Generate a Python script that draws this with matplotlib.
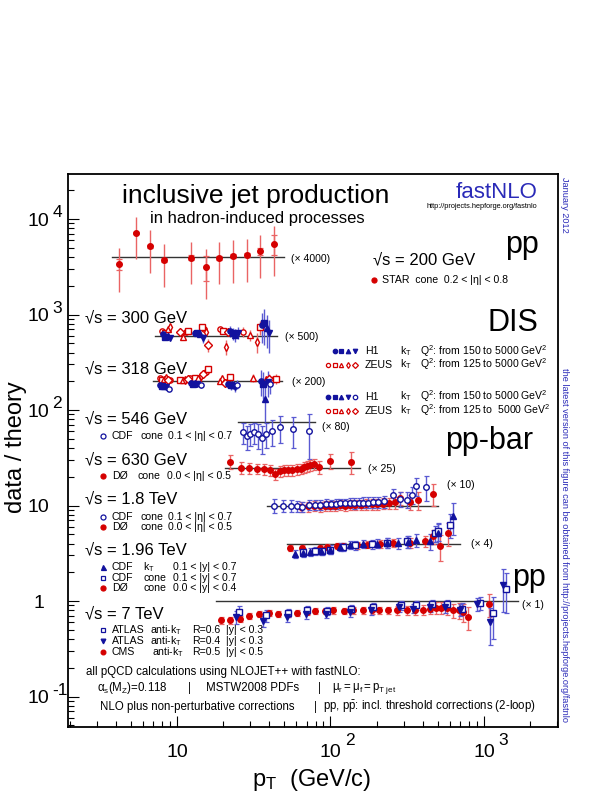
import matplotlib
matplotlib.use("Agg")
import matplotlib.pyplot as plt
import matplotlib.transforms as mtrans
import numpy as np

plt.rcParams['font.family'] = ['Liberation Sans', 'DejaVu Sans']
plt.rcParams['mathtext.fontset'] = 'custom'
plt.rcParams['mathtext.rm'] = 'Liberation Sans'
plt.rcParams['mathtext.it'] = 'Liberation Sans:italic'
plt.rcParams['mathtext.sf'] = 'Liberation Sans'

# ---------------- data (ratio data/theory, multiplied by the offset factor) ----
STAR_PT = [4.2, 5.4, 6.7, 8.2, 12.4, 15.4, 18.9, 23.2, 28.4, 34.9, 42.8]
STAR_R = [0.845, 1.80, 1.29, 0.93, 0.985, 0.786, 0.985, 1.03, 1.05, 1.15, 1.38]
STAR_E = [0.41, 0.85, 0.61, 0.44, 0.46, 0.42, 0.46, 0.49, 0.50, 0.55, 0.74]
STAR_STAT = [0.11, 0.05, 0.05, 0.05, 0.06, 0.23, 0.05, 0.05, 0.06, 0.10, 0.33]

H1_300_PT = [8.1, 8.4, 8.7, 9.0, 13.1, 13.6, 14.1, 14.7, 22.2, 23.0, 23.9, 24.9,
             35.6, 37.0, 38.4, 39.9]
H1_300_R = [1.03, 0.976, 1.0, 0.953, 1.075, 1.058, 1.033, 0.938, 1.128, 1.058,
            1.016, 1.075, 1.29, 1.35, 1.19, 1.06]
H1_300_E = [0.04, 0.04, 0.04, 0.04, 0.06, 0.06, 0.06, 0.10, 0.15, 0.15, 0.15,
            0.15, 0.45, 0.55, 0.45, 0.40]
H1_300_BIN = [0, 1, 2, 3, 0, 1, 2, 3, 0, 1, 2, 3, 0, 1, 2, 3]

ZEUS_300_PT = [7.95, 8.35, 8.78, 9.0, 10.45, 10.9, 11.45, 11.85, 14.5, 15.0,
               15.45, 16.0, 19.06, 19.8, 20.8, 21.6, 27.0, 29.9, 33.0, 34.8]
ZEUS_300_R = [1.119, 1.058, 1.165, 1.222, 1.101, 0.976, 1.101, 1.128, 1.243,
              1.165, 1.101, 0.798, 1.165, 1.119, 0.767, 1.101, 1.101, 1.016,
              0.865, 1.222]
ZEUS_300_E = [0.05, 0.05, 0.08, 0.06, 0.05, 0.06, 0.06, 0.06, 0.08, 0.08,
              0.08, 0.12, 0.08, 0.08, 0.14, 0.08, 0.12, 0.14, 0.20, 0.20]
ZEUS_300_BIN = [0, 1, 2, 3, 4, 2, 0, 1, 1, 0, 3, 4, 0, 1, 3, 4, 0, 2, 3, 1]

H1_318_PT = [7.75, 7.99, 8.23, 8.48, 8.87, 12.4, 12.8, 13.2, 13.6, 14.3,
             21.6, 22.4, 23.2, 24.0, 24.7, 35.1, 36.3, 37.6, 38.9, 40.3]
H1_318_R = [0.908, 0.894, 0.886, 0.872, 0.825, 0.968, 0.945, 0.953, 0.938,
            0.908, 0.945, 0.908, 0.923, 0.872, 0.923, 1.008, 0.945, 0.658,
            0.984, 0.93]
H1_318_E = [0.04, 0.04, 0.04, 0.04, 0.04, 0.05, 0.05, 0.05, 0.05, 0.05,
            0.10, 0.10, 0.10, 0.10, 0.10, 0.30, 0.30, 0.28, 0.30, 0.20]
H1_318_BIN = [0, 1, 2, 3, 4, 0, 1, 2, 3, 4, 0, 1, 2, 3, 4, 0, 1, 2, 3, 4]

ZEUS_318_PT = [7.75, 7.99, 8.23, 8.48, 8.78, 9.0, 10.45, 10.9, 11.35, 11.8,
               12.2, 13.1, 13.8, 14.3, 14.8, 15.45, 16.0, 19.06, 19.7, 20.5,
               21.3, 22.2, 31.4, 37.8, 39.6, 41.4, 44.3]
ZEUS_318_R = [1.092, 1.041, 1.066, 1.092, 1.024, 1.041, 1.041, 1.024, 1.041,
              1.066, 1.092, 1.092, 1.092, 1.128, 1.184, 1.252, 1.357, 1.008,
              1.066, 0.961, 0.984, 1.11, 1.092, 1.041, 1.066, 1.024, 1.066]
ZEUS_318_E = [0.03, 0.03, 0.03, 0.03, 0.03, 0.03, 0.03, 0.03, 0.03, 0.03,
              0.03, 0.04, 0.04, 0.04, 0.05, 0.05, 0.06, 0.05, 0.05, 0.06,
              0.06, 0.06, 0.10, 0.10, 0.12, 0.12, 0.12]
ZEUS_318_BIN = [0, 1, 2, 3, 4, 0, 1, 2, 3, 4, 0, 1, 2, 3, 4, 0, 1, 2, 3, 4,
                0, 1, 2, 3, 4, 0, 1]

CDF_546_PT = [27.0, 28.4, 29.9, 31.8, 33.8, 35.9, 37.8, 41.4, 46.8, 57.2, 72.0]
CDF_546_R = [0.786, 0.714, 0.755, 0.786, 0.743, 0.685, 0.755, 0.805, 0.886,
             0.838, 0.805]
CDF_546_E = [0.20, 0.20, 0.20, 0.20, 0.22, 0.22, 0.22, 0.25, 0.28, 0.30, 0.40]

D0_630_PT = [22.3, 26.0, 29.5, 33.0, 36.9, 40.3, 43.5, 46.8, 50.0, 53.0, 56.5,
             60.3, 64.0, 67.7, 70.7, 73.7, 77.5, 84.6, 100.0, 135.0]
D0_630_R = [1.156, 1.0, 0.984, 0.976, 0.96, 0.938, 0.852, 0.923, 0.945, 0.945,
            0.945, 0.96, 0.968, 1.016, 1.033, 1.058, 1.084, 1.024, 1.175, 1.156]
D0_630_E = [0.20, 0.15, 0.12, 0.12, 0.12, 0.12, 0.12, 0.12, 0.12, 0.12, 0.12,
            0.12, 0.12, 0.13, 0.13, 0.14, 0.15, 0.16, 0.22, 0.30]

CDF_1800_PT = [42.8, 48.7, 55.0, 60.8, 65.6, 72.4, 79.2, 86.0, 93.0, 100.4,
               108.1, 115.6, 123.6, 134.0, 143.0, 153.0, 164.0, 176.0, 189.6,
               205.0, 224.0, 257.0, 283.0, 313.0, 338.0, 363.0, 416.0]
CDF_1800_R = [1.0, 1.0, 1.0, 0.984, 0.976, 1.016, 1.016, 1.024, 1.041, 1.033,
              1.041, 1.058, 1.058, 1.066, 1.058, 1.066, 1.075, 1.075, 1.092,
              1.084, 1.11, 1.30, 1.17, 1.155, 1.30, 1.60, 1.57]
CDF_1800_E = [0.17, 0.15, 0.14, 0.13, 0.12, 0.12, 0.12, 0.12, 0.12, 0.12,
              0.12, 0.12, 0.12, 0.13, 0.13, 0.13, 0.14, 0.14, 0.15, 0.15,
              0.16, 0.20, 0.20, 0.22, 0.25, 0.35, 0.45]

D0_1800_PT = [64, 71, 78, 85, 92, 99, 107, 115, 124, 134, 145, 157, 170, 185,
              201, 219, 240, 265, 283, 330, 373, 466]
D0_1800_R = [0.97, 0.98, 0.99, 0.98, 1.0, 0.99, 1.0, 1.01, 1.0, 1.02, 1.01,
             1.02, 1.03, 1.03, 1.04, 1.05, 1.06, 1.08, 1.20, 1.10, 1.15, 1.33]
D0_1800_E = [0.12, 0.12, 0.12, 0.12, 0.12, 0.12, 0.12, 0.12, 0.12, 0.12, 0.12,
             0.13, 0.13, 0.13, 0.14, 0.14, 0.15, 0.16, 0.18, 0.20, 0.25, 0.35]

D0_1960_PT = [54.5, 64.9, 85.3, 94.3, 109.6, 121.2, 148, 172, 210, 257, 330,
              415, 466, 517, 585]
D0_1960_R = [0.90, 0.90, 0.90, 0.923, 0.938, 0.953, 0.96, 0.976, 0.992, 1.016,
             1.016, 1.058, 1.19, 0.938, 1.29]
D0_1960_E = [0.07, 0.06, 0.06, 0.06, 0.07, 0.07, 0.08, 0.08, 0.09, 0.10, 0.12,
             0.14, 0.20, 0.28, 0.35]

CDFKT_1960_PT = [58.6, 66.5, 73.7, 87.0, 99.2, 115, 134, 163.6, 200, 235, 277,
                 320, 363, 443, 500, 624]
CDFKT_1960_R = [0.78, 0.80, 0.818, 0.84, 0.865, 0.92, 0.976, 0.992, 1.0, 1.01,
                1.016, 1.05, 1.084, 1.058, 1.30, 1.93]
CDFKT_1960_E = [0.08, 0.08, 0.08, 0.08, 0.09, 0.09, 0.10, 0.10, 0.11, 0.12,
                0.13, 0.15, 0.17, 0.20, 0.30, 0.70]

CDFCONE_1960_PT = [66.5, 79.2, 87.4, 99.2, 120, 145, 185.5, 232, 313, 479, 503,
                   600]
CDFCONE_1960_R = [0.818, 0.83, 0.845, 0.865, 0.92, 0.96, 0.992, 1.016, 1.058,
                  1.29, 1.35, 1.58]
CDFCONE_1960_E = [0.08, 0.08, 0.08, 0.09, 0.09, 0.10, 0.11, 0.12, 0.15, 0.25,
                  0.28, 0.45]

CMS_PT = [19.3, 22.2, 25.7, 29.6, 34.2, 39.7, 45.7, 53.2, 60.3, 69.9, 79.2, 92,
          104, 122.5, 141, 163.6, 185.5, 208, 237.6, 269.5, 313, 355, 403, 444,
          490, 528, 570, 624, 683, 734, 790, 1080]
CMS_R = [0.627, 0.627, 0.653, 0.691, 0.737, 0.749, 0.737, 0.737, 0.755, 0.767,
         0.786, 0.786, 0.798, 0.786, 0.798, 0.798, 0.798, 0.798, 0.798, 0.798,
         0.798, 0.811, 0.811, 0.831, 0.852, 0.852, 0.845, 0.798, 0.798, 0.767,
         0.68, 0.938]
CMS_E = [0.05, 0.05, 0.05, 0.05, 0.05, 0.05, 0.05, 0.05, 0.05, 0.05, 0.06,
         0.06, 0.06, 0.06, 0.06, 0.06, 0.07, 0.07, 0.07, 0.08, 0.08, 0.09,
         0.10, 0.10, 0.12, 0.12, 0.13, 0.14, 0.15, 0.16, 0.18, 0.25]

ATLAS6_PT = [25.3, 37.8, 53.2, 70.7, 94.3, 137, 188, 287, 358, 459, 570, 718,
             941, 1140, 1400]
ATLAS6_R = [0.767, 0.708, 0.755, 0.812, 0.786, 0.831, 0.865, 0.901, 0.901,
            0.923, 0.923, 0.831, 0.961, 0.749, 1.35]
ATLAS6_E = [0.12, 0.10, 0.08, 0.08, 0.08, 0.08, 0.08, 0.09, 0.09, 0.10, 0.11,
            0.12, 0.15, 0.35, 0.60]

ATLAS4_PT = [24.2, 36.5, 51.8, 68.8, 93, 133, 184, 281, 346, 448, 554, 697,
             898, 1095, 1335]
ATLAS4_R = [0.68, 0.617, 0.68, 0.725, 0.737, 0.767, 0.798, 0.865, 0.831, 0.865,
            0.865, 0.811, 0.938, 0.60, 1.46]
ATLAS4_E = [0.10, 0.08, 0.08, 0.08, 0.08, 0.08, 0.08, 0.09, 0.09, 0.10, 0.11,
            0.12, 0.15, 0.25, 0.70]

# offset factor and pT range of the theory line for each data set
LINES = {
    'star': (4000, 3.76, 49.8),
    'dis300': (600, 7.2, 44.6),
    'dis318': (200, 7.0, 48.0),
    'cdf546': (75, 25.0, 79.0),
    'd0630': (25, 20.5, 155.0),
    'tev1800': (10, 38.4, 500.0),
    'tev1960': (4, 51.8, 698.0),
    'lhc7': (1, 18.0, 1660.0),
}

X_TICKS = [10, 100, 1000]
X_EXP = ['', '2', '3']
Y_TICKS = [0.1, 1, 10, 100, 1000, 10000]
Y_BASE = ['10', '1', '10', '10', '10', '10']
Y_EXP = ['-1', '', '', '2', '3', '4']

RED = '#d50000'
RED_E = '#ea6464'
BLUE = '#12129e'
BLUE_E = '#5a5ad2'
TXT_BLUE = '#2a2ab8'

# ---------------- figure ----------------
W, H = 615, 795
X0, X1, Y0, Y1 = 68, 558, 174, 727   # frame in pixels

fig = plt.figure(figsize=(W / 100, H / 100), dpi=100)
ax = fig.add_axes([X0 / W, 1 - Y1 / H, (X1 - X0) / W, (Y1 - Y0) / H])
ax.set_xscale('log')
ax.set_yscale('log')
ax.set_xlim(1.95, 3034)
ax.set_ylim(0.048, 2.96e4)
for s in ax.spines.values():
    s.set_linewidth(1.3)
ax.tick_params(which='both', direction='in', top=False, right=False,
               labelbottom=False, labelleft=False)
ax.tick_params(which='major', length=8, width=0.8)
ax.tick_params(which='minor', length=4, width=0.8)


def txt(x, y, s, size, color='black', ha='left', va='center', **kw):
    ax.text((x - X0) / (X1 - X0), (Y1 - y) / (Y1 - Y0), s, transform=ax.transAxes,
            fontsize=size, color=color, ha=ha, va=va, clip_on=False, **kw)


def key(x, y, marker, color, filled=True, ms=3.6):
    ax.plot([(x - X0) / (X1 - X0)], [(Y1 - y) / (Y1 - Y0)], transform=ax.transAxes,
            ls='none', marker=marker, ms=ms, mec=color, mew=0.9,
            mfc=color if filled else 'white', clip_on=False)


def series(pt, ratio, err, scale, marker, color, ecolor, filled=True, ms=4.0,
           cap=0.0, stat=None):
    pt = np.asarray(pt, float)
    y = np.asarray(ratio, float) * scale
    e = np.asarray(err, float) * scale
    ax.errorbar(pt, y, yerr=e, fmt='none', ecolor=ecolor, elinewidth=1.0,
                capsize=cap, capthick=0.9, zorder=2)
    if stat is not None:
        ax.errorbar(pt, y, yerr=np.asarray(stat) * scale, fmt='none',
                    ecolor=ecolor, elinewidth=1.0, capsize=2.2, capthick=0.9,
                    zorder=2)
    ax.plot(pt, y, ls='none', marker=marker, ms=ms, mec=color, mew=1.0,
            mfc=color if filled else 'white', zorder=3)


def binned(pt, ratio, err, bins, scale, markers, color, ecolor, filled):
    pt, ratio, err, bins = map(np.asarray, (pt, ratio, err, bins))
    for b, (m, f) in enumerate(zip(markers, filled)):
        sel = bins == b
        series(pt[sel], ratio[sel], err[sel], scale, m, color, ecolor,
               filled=f, ms=3.8)


# theory lines
for name, (scale, lo, hi) in LINES.items():
    ax.plot([lo, hi], [scale, scale], color='#333333', lw=1.0, zorder=1)

H1_MARK = ['o', 's', '^', 'v', 'o']
H1_FILL = [True, True, True, True, False]
ZEUS_MARK = ['o', 's', '^', 'd', 'D']
ZEUS_FILL = [False] * 5

series(STAR_PT, STAR_R, STAR_E, LINES['star'][0], 'o', RED, RED_E, stat=STAR_STAT)
binned(ZEUS_300_PT, ZEUS_300_R, ZEUS_300_E, ZEUS_300_BIN, LINES['dis300'][0],
       ZEUS_MARK, RED, RED_E, ZEUS_FILL)
binned(H1_300_PT, H1_300_R, H1_300_E, H1_300_BIN, LINES['dis300'][0],
       H1_MARK, BLUE, BLUE_E, H1_FILL)
binned(ZEUS_318_PT, ZEUS_318_R, ZEUS_318_E, ZEUS_318_BIN, LINES['dis318'][0],
       ZEUS_MARK, RED, RED_E, ZEUS_FILL)
binned(H1_318_PT, H1_318_R, H1_318_E, H1_318_BIN, LINES['dis318'][0],
       H1_MARK, BLUE, BLUE_E, H1_FILL)
series(CDF_546_PT, CDF_546_R, CDF_546_E, LINES['cdf546'][0], 'o', BLUE, BLUE_E,
       filled=False, cap=1.8)
series(D0_630_PT, D0_630_R, D0_630_E, LINES['d0630'][0], 'o', RED, RED_E, cap=1.8)
series(D0_1800_PT, D0_1800_R, D0_1800_E, LINES['tev1800'][0], 'o', RED, RED_E,
       cap=1.8)
series(CDF_1800_PT, CDF_1800_R, CDF_1800_E, LINES['tev1800'][0], 'o', BLUE,
       BLUE_E, filled=False, cap=1.8)
series(D0_1960_PT, D0_1960_R, D0_1960_E, LINES['tev1960'][0], 'o', RED, RED_E,
       cap=1.8)
series(CDFCONE_1960_PT, CDFCONE_1960_R, CDFCONE_1960_E, LINES['tev1960'][0], 's',
       BLUE, BLUE_E, filled=False, cap=1.8)
series(CDFKT_1960_PT, CDFKT_1960_R, CDFKT_1960_E, LINES['tev1960'][0], '^', BLUE,
       BLUE_E, cap=1.8)
series(CMS_PT, CMS_R, CMS_E, LINES['lhc7'][0], 'o', RED, RED_E, cap=1.8)
series(ATLAS6_PT, ATLAS6_R, ATLAS6_E, LINES['lhc7'][0], 's', BLUE, BLUE_E,
       filled=False, cap=1.8)
series(ATLAS4_PT, ATLAS4_R, ATLAS4_E, LINES['lhc7'][0], 'v', BLUE, BLUE_E, cap=1.8)

# tick labels in ROOT style: base centred on the tick, exponent to the right
xt = ax.get_xaxis_transform()
for v, ex in zip(X_TICKS, X_EXP):
    ax.text(v, -0.047, '10', transform=xt, ha='center', va='center', fontsize=14)
    if ex:
        ax.text(v, -0.047, ex, ha='left', va='center', fontsize=12.5,
                transform=mtrans.offset_copy(xt, fig, x=10.5, y=9, units='points'))
yt = ax.get_yaxis_transform()
for v, base, ex in zip(Y_TICKS, Y_BASE, Y_EXP):
    ax.text(-0.06, v, base, transform=mtrans.offset_copy(yt, fig, y=-1.7, units='points'),
            ha='center', va='center', fontsize=14)
    if ex:
        ax.text(-0.06, v, ex, ha='left', va='center', fontsize=12.5,
                transform=mtrans.offset_copy(yt, fig, x=10, y=4.5, units='points'))

fig.text(16 / W, 1 - 447 / H, 'data / theory', rotation=90, ha='center',
         va='center', fontsize=17)
fig.text(312 / W, 1 - 780 / H, r'p$_\mathregular{T}$  (GeV/c)', ha='center',
         va='center', fontsize=17)

# headers
txt(256, 203, 'inclusive jet production', 19, ha='center', va='baseline')
txt(257, 222.5, 'in hadron-induced processes', 12, ha='center', va='baseline')
txt(497, 198, 'fastNLO', 16, color=TXT_BLUE, ha='center', va='baseline')
txt(537, 207.5, 'http://projects.hepforge.org/fastnlo', 5.3, ha='right', va='baseline')
txt(565, 177, 'January 2012', 6.6, color=TXT_BLUE, ha='center', va='top',
    rotation=-90)
txt(565, 368, 'the latest version of this figure can be obtained from '
    'http://projects.hepforge.org/fastnlo', 6.6, color=TXT_BLUE, ha='center',
    va='top', rotation=-90)

BIG = 22
SQ = 12
SM = 7.6

# pp 200 GeV
txt(505, 253.5, 'pp', BIG, va='baseline')
txt(373, 259.5, '\u221as = 200 GeV', SQ)
key(373.5, 280, 'o', RED)
txt(381.7, 280, 'STAR  cone  0.2 < |\u03b7| < 0.8', SM)
txt(291, 259.5, '(\u00d7 4000)', SM)

# DIS
txt(488, 331, 'DIS', BIG, va='baseline')
txt(85, 318, '\u221as = 300 GeV', SQ)
txt(285, 337, '(\u00d7 500)', SM)
txt(85, 368.5, '\u221as = 318 GeV', SQ)
txt(292, 382, '(\u00d7 200)', SM)
for yy, nh in ((351, 4), (396.5, 5)):
    for i in range(nh):
        key(327.7 + 6.8 * (i + 5 - nh), yy, H1_MARK[i], BLUE, H1_FILL[i], ms=3.2)
    txt(365, yy, 'H1', SM)
    txt(400, yy, r'k$_\mathregular{T}$', SM)
    txt(420, yy, r'Q$^\mathregular{2}$: from 150 to 5000 GeV$^\mathregular{2}$', SM)
for yy, q in ((364.5, 'Q$^\\mathregular{2}$: from 125 to 5000 GeV$^\\mathregular{2}$'),
              (410.5, 'Q$^\\mathregular{2}$: from 125 to  5000 GeV$^\\mathregular{2}$')):
    for i in range(5):
        key(327.7 + 6.8 * i, yy, ZEUS_MARK[i], RED, False, ms=3.0)
    txt(365, yy, 'ZEUS', SM)
    txt(400, yy, r'k$_\mathregular{T}$', SM)
    txt(420, yy, q, SM)

# pp-bar
txt(445, 449.5, 'pp-bar', BIG, va='baseline')
txt(85, 418.5, '\u221as = 546 GeV', SQ)
key(103, 436, 'o', BLUE, False)
txt(111.7, 436, 'CDF', SM)
txt(140.7, 436, 'cone', SM)
txt(168.3, 436, '0.1 < |\u03b7| < 0.7', SM)
txt(322, 427, '(\u00d7 80)', SM)

txt(85, 460, '\u221as = 630 GeV', SQ)
key(103, 476, 'o', RED)
txt(111.7, 476, 'D\u00d8', SM)
txt(137.3, 476, 'cone', SM)
txt(166.7, 476, '0.0 < |\u03b7| < 0.5', SM)
txt(368.3, 468.5, '(\u00d7 25)', SM)

txt(85, 498.5, '\u221as = 1.8 TeV', SQ)
key(103, 516.7, 'o', BLUE, False)
txt(111.7, 516.7, 'CDF', SM)
txt(140.7, 516.7, 'cone', SM)
txt(168.3, 516.7, '0.1 < |\u03b7| < 0.7', SM)
key(103, 526.7, 'o', RED)
txt(111.7, 526.7, 'D\u00d8', SM)
txt(140.7, 526.7, 'cone', SM)
txt(168.3, 526.7, '0.0 < |\u03b7| < 0.5', SM)
txt(446.7, 485, '(\u00d7 10)', SM)

txt(85, 550, '\u221as = 1.96 TeV', SQ)
key(103, 567.3, '^', BLUE)
txt(111.7, 567.3, 'CDF', SM)
txt(143.3, 567.3, r'k$_\mathregular{T}$', SM)
txt(172.7, 567.3, '0.1 < |y| < 0.7', SM)
key(103, 578.3, 's', BLUE, False, ms=3.4)
txt(111.7, 578.3, 'CDF', SM)
txt(143.3, 578.3, 'cone', SM)
txt(172.7, 578.3, '0.1 < |y| < 0.7', SM)
key(103, 588.3, 'o', RED)
txt(111.7, 588.3, 'D\u00d8', SM)
txt(143.3, 588.3, 'cone', SM)
txt(172.7, 588.3, '0.0 < |y| < 0.4', SM)
txt(470.7, 544, '(\u00d7 4)', SM)

# pp 7 TeV
txt(512, 586, 'pp', BIG, va='baseline')
txt(85, 613.5, '\u221as = 7 TeV', SQ)
txt(521.7, 605, '(\u00d7 1)', SM)
for yy, mk, fl, name, akt, rr, yc in (
        (630, 's', False, 'ATLAS', 150.0, 'R=0.6', '|y| < 0.3'),
        (641, 'v', True, 'ATLAS', 150.0, 'R=0.4', '|y| < 0.3'),
        (651.7, 'o', True, 'CMS', 152.0, 'R=0.5', '|y| < 0.5')):
    key(102.5, yy, mk, RED if name == 'CMS' else BLUE, fl, ms=3.4)
    txt(111.7, yy, name, SM)
    txt(akt, yy, r'anti-k$_\mathregular{T}$', SM)
    txt(192, yy, rr, SM)
    txt(226, yy, yc, SM)

# footer notes
txt(86, 671.7, 'all pQCD calculations using NLOJET++ with fastNLO:', 8.3)
txt(96.7, 688.3, r'$\mathregular{\alpha_s(M_Z)}$=0.118', 8.3)
txt(187.8, 688.3, '|', 8.3)
txt(206, 688.3, 'MSTW2008 PDFs', 8.3)
txt(318.4, 688.3, '|', 8.3)
txt(331.5, 688.3, r'$\mathregular{\mu_r = \mu_f = p_{T\ jet}}$', 8.3)
txt(99.5, 706.8, 'NLO plus non-perturbative corrections', 8.3)
txt(313.6, 706.8, '|', 8.3)
txt(323, 706.8, r'pp, $\mathregular{p\bar{p}}$: incl. threshold corrections (2-loop)', 8.3)

fig.savefig('out.png', dpi=100)
